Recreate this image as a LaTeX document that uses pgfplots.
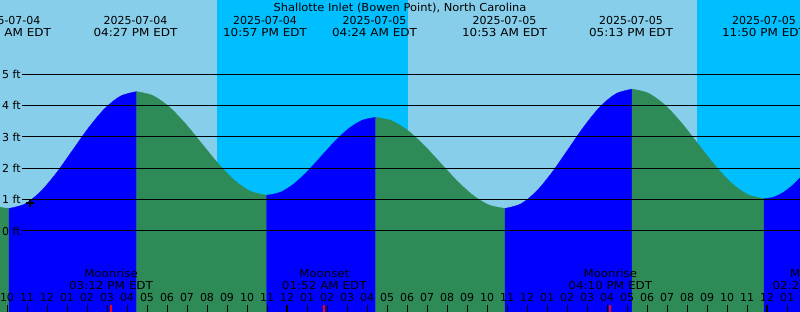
\documentclass[border=0pt]{standalone}
\usepackage{pgfplots}
\pgfplotsset{compat=1.18}
\usepackage{fontspec}
\setmainfont{DejaVu Sans}
\newfontfamily\titlefont[FakeStretch=1.04]{DejaVu Sans}
\newfontfamily\timefont[FakeStretch=1.09]{DejaVu Sans}
\newfontfamily\moonfont[FakeStretch=1.07]{DejaVu Sans}
\definecolor{daycol}{HTML}{87CEEB}
\definecolor{nightcol}{HTML}{00BFFF}
\definecolor{tideblue}{HTML}{0000FF}
\definecolor{tidegreen}{HTML}{2E8B57}
\begin{document}
\begin{tikzpicture}[font=\fontsize{11bp}{13bp}\selectfont]
\useasboundingbox (0,0) rectangle (800bp,312bp);
\clip (0,0) rectangle (800bp,312bp);
\begin{axis}[at={(0,0)}, anchor=south west, scale only axis,
  width=800bp, height=312bp,
  xmin=-14.35, xmax=25.65, ymin=-2.58, ymax=7.357,
  axis background/.style={fill=daycol},
  axis line style={draw=none},
  ytick=\empty,
  xtick={-14,...,25}, xticklabel={},
  tick align=inside, xtick pos=bottom, major tick length=7bp,
  tick style={black, line width=1bp},
  extra x ticks={0,24}, extra x tick labels={},
  extra x tick style={major tick style={line width=2.6bp}},
  axis on top, clip=true]
% night
\addplot[fill=nightcol, draw=none] coordinates {(-3.5,-3) (-3.5,8) (6.05,8) (6.05,-3)} -- cycle;
\addplot[fill=nightcol, draw=none] coordinates {(20.5,-3) (20.5,8) (26.5,8) (26.5,-3)} -- cycle;
% tide segments
\addplot[fill=tidegreen, draw=tidegreen, line width=0.3bp, smooth] coordinates {(-14.6,0.80) (-14.35,0.76) (-14.15,0.735) (-13.9,0.72)} -- (axis cs:-13.9,-3) -- (axis cs:-14.6,-3) -- cycle;
\addplot[fill=tideblue, draw=tideblue, line width=0.3bp, smooth] coordinates {(-13.9,0.72) (-13.103,0.862) (-12.306,1.265) (-11.509,1.868) (-10.713,2.58) (-9.916,3.292) (-9.119,3.895) (-8.322,4.298) (-7.525,4.44)} -- (axis cs:-7.525,-3) -- (axis cs:-13.9,-3) -- cycle;
\addplot[fill=tidegreen, draw=tidegreen, line width=0.3bp, smooth] coordinates {(-7.525,4.44) (-6.711,4.314) (-5.897,3.957) (-5.084,3.421) (-4.27,2.79) (-3.456,2.159) (-2.642,1.623) (-1.829,1.266) (-1.015,1.14)} -- (axis cs:-1.015,-3) -- (axis cs:-7.525,-3) -- cycle;
\addplot[fill=tideblue, draw=tideblue, line width=0.3bp, smooth] coordinates {(-1.015,1.14) (-0.334,1.234) (0.348,1.503) (1.029,1.906) (1.71,2.38) (2.391,2.854) (3.073,3.257) (3.754,3.526) (4.435,3.62)} -- (axis cs:4.435,-3) -- (axis cs:-1.015,-3) -- cycle;
\addplot[fill=tidegreen, draw=tidegreen, line width=0.3bp, smooth] coordinates {(4.435,3.62) (5.243,3.51) (6.051,3.195) (6.859,2.725) (7.668,2.17) (8.476,1.615) (9.284,1.145) (10.092,0.83) (10.9,0.72)} -- (axis cs:10.9,-3) -- (axis cs:4.435,-3) -- cycle;
\addplot[fill=tideblue, draw=tideblue, line width=0.3bp, smooth] coordinates {(10.9,0.72) (11.694,0.865) (12.488,1.276) (13.281,1.893) (14.075,2.62) (14.869,3.347) (15.663,3.964) (16.456,4.375) (17.25,4.52)} -- (axis cs:17.25,-3) -- (axis cs:10.9,-3) -- cycle;
\addplot[fill=tidegreen, draw=tidegreen, line width=0.3bp, smooth] coordinates {(17.25,4.52) (18.075,4.387) (18.9,4.009) (19.725,3.443) (20.55,2.775) (21.375,2.107) (22.2,1.541) (23.025,1.163) (23.85,1.03)} -- (axis cs:23.85,-3) -- (axis cs:17.25,-3) -- cycle;
\addplot[fill=tideblue, draw=tideblue, line width=0.3bp, smooth] coordinates {(23.85,1.03) (24.3,1.074) (24.75,1.204) (25.2,1.414) (25.65,1.69) (26.0,1.86)} -- (axis cs:26.0,-3) -- (axis cs:23.85,-3) -- cycle;
% grid lines
\addplot[black, line width=1bp] coordinates {(-13.25,0) (26,0)};
\addplot[black, line width=1bp] coordinates {(-13.25,1) (26,1)};
\addplot[black, line width=1bp] coordinates {(-13.25,2) (26,2)};
\addplot[black, line width=1bp] coordinates {(-13.25,3) (26,3)};
\addplot[black, line width=1bp] coordinates {(-13.25,4) (26,4)};
\addplot[black, line width=1bp] coordinates {(-13.25,5) (26,5)};
% moon event ticks
\addplot[red, line width=2bp] coordinates {(-8.8,-2.35) (-8.8,-2.7)};
\addplot[red, line width=2bp] coordinates {(1.867,-2.35) (1.867,-2.7)};
\addplot[red, line width=2bp] coordinates {(16.167,-2.35) (16.167,-2.7)};
% current position marker
\addplot[only marks, mark=+, mark size=4bp, line width=1.6bp, black] coordinates {(-12.85,0.90)};
% y labels
\foreach \v in {0,...,5}{\edef\tmp{\noexpand\node[anchor=base west, inner sep=0pt, yshift=-4.3bp] at (axis cs:-14.25,\v) {\v\space ft};}\tmp}
% hour labels
\foreach \h/\l in {-14/10,-13/11,-12/12,-11/01,-10/02,-9/03,-8/04,-7/05,-6/06,-5/07,-4/08,-3/09,-2/10,-1/11,0/12,1/01,2/02,3/03,4/04,5/05,6/06,7/07,8/08,9/09,10/10,11/11,12/12,13/01,14/02,15/03,16/04,17/05,18/06,19/07,20/08,21/09,22/10,23/11,24/12,25/01}{\edef\tmp{\noexpand\node[anchor=base, inner sep=0pt] at (axis cs:\h,-2.245) {\l};}\tmp}
% title
\node[anchor=base, inner sep=0pt, font=\fontsize{11bp}{13bp}\titlefont] at (axis cs:5.65,7.006) {Shallotte Inlet (Bowen Point), North Carolina};
% tide event labels
\foreach \h/\d/\t in {-13.925/2025-07-04/10:05 AM EDT, -7.575/2025-07-04/04:27 PM EDT, -1.1/2025-07-04/10:57 PM EDT, 4.375/2025-07-05/04:24 AM EDT, 10.875/2025-07-05/10:53 AM EDT, 17.2/2025-07-05/05:13 PM EDT, 23.85/2025-07-05/11:50 PM EDT}{\edef\tmp{\noexpand\node[anchor=base, inner sep=0pt] at (axis cs:\h,6.583) {\d}; \noexpand\node[anchor=base, inner sep=0pt, font=\noexpand\fontsize{11bp}{13bp}\noexpand\timefont] at (axis cs:\h,6.194) {\t};}\tmp}
% moon labels
\foreach \h/\a/\t in {-8.8/Moonrise/03:12 PM EDT, 1.867/Moonset/01:52 AM EDT, 16.167/Moonrise/04:10 PM EDT, 26.4/Moonset/02:24 AM EDT}{\edef\tmp{\noexpand\node[anchor=base, inner sep=0pt, font=\noexpand\fontsize{11bp}{13bp}\noexpand\moonfont] at (axis cs:\h,-1.497) {\a}; \noexpand\node[anchor=base, inner sep=0pt, font=\noexpand\fontsize{11bp}{13bp}\noexpand\timefont] at (axis cs:\h,-1.857) {\t};}\tmp}
\end{axis}
\end{tikzpicture}
\end{document}
